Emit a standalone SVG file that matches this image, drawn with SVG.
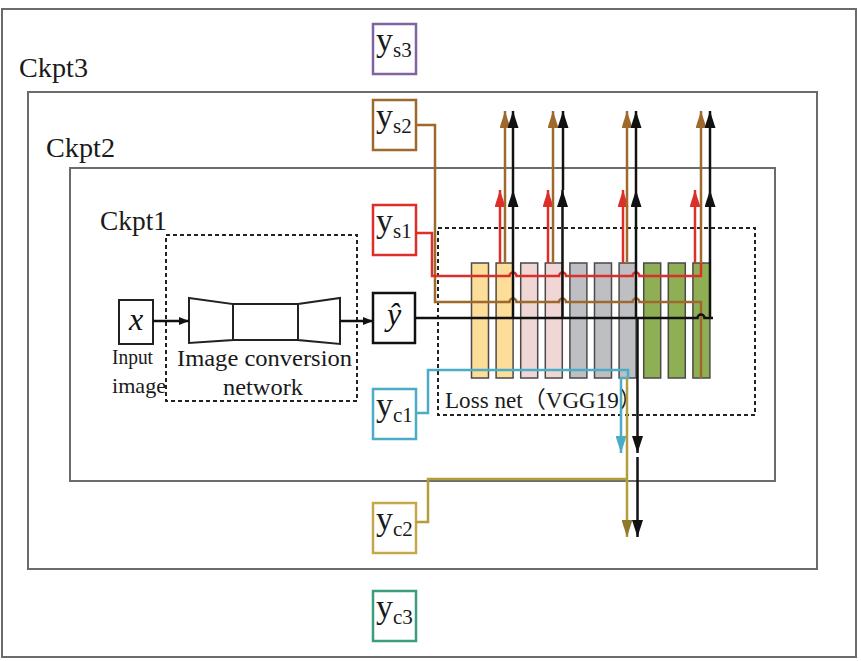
<svg xmlns="http://www.w3.org/2000/svg" width="861" height="661" viewBox="0 0 861 661">
<style>
  .frame{fill:none;stroke:#6b6b6b;stroke-width:2}
  .dash{fill:none;stroke:#222;stroke-width:2;stroke-dasharray:4 3}
  .ybox{fill:#fff;stroke-width:2.5}
  .t{font-family:'Liberation Serif','Times New Roman','DejaVu Serif','Noto Serif',serif;fill:#1a1a1a}
  .ck{font-size:28px}
  .y{font-size:34px}
  .sub{font-size:21px}
  .m{font-family:'Liberation Serif','Times New Roman','DejaVu Serif','Noto Serif',serif;font-style:italic;fill:#111}
  .cjk{font-family:'Liberation Serif','DejaVu Serif','Noto Sans CJK SC',serif}
  .bar{stroke:#4a4a4a;stroke-width:1.5}
  .c{fill:none;stroke-width:2.5}
  .blk{stroke:#111}
  .red{stroke:#dc2f2a}
  .brn{stroke:#a0692c}
  .cyn{stroke:#4bacc6}
  .gld{stroke:#b59d3b}
  .shape{fill:#fff;stroke:#222;stroke-width:2}
</style>
<defs>
  <marker id="aBlk" markerUnits="userSpaceOnUse" viewBox="0 0 17 11" markerWidth="17" markerHeight="11" refX="17" refY="5.5" orient="auto"><path d="M0,0 L17,5.5 L0,11 z" fill="#111"/></marker>
  <marker id="aRed" markerUnits="userSpaceOnUse" viewBox="0 0 17 11" markerWidth="17" markerHeight="11" refX="17" refY="5.5" orient="auto"><path d="M0,0 L17,5.5 L0,11 z" fill="#dc2f2a"/></marker>
  <marker id="aBrn" markerUnits="userSpaceOnUse" viewBox="0 0 17 11" markerWidth="17" markerHeight="11" refX="17" refY="5.5" orient="auto"><path d="M0,0 L17,5.5 L0,11 z" fill="#a0692c"/></marker>
  <marker id="aCyn" markerUnits="userSpaceOnUse" viewBox="0 0 17 11" markerWidth="17" markerHeight="11" refX="17" refY="5.5" orient="auto"><path d="M0,0 L17,5.5 L0,11 z" fill="#4bacc6"/></marker>
  <marker id="aGld" markerUnits="userSpaceOnUse" viewBox="0 0 17 11" markerWidth="17" markerHeight="11" refX="17" refY="5.5" orient="auto"><path d="M0,0 L17,5.5 L0,11 z" fill="#8f7a2a"/></marker>
  <marker id="aSm" markerUnits="userSpaceOnUse" viewBox="0 0 10 8" markerWidth="10" markerHeight="8" refX="10" refY="4" orient="auto"><path d="M0,0 L10,4 L0,8 z" fill="#111"/></marker>
</defs>
<rect width="861" height="661" fill="#fff"/>

<g id="ckpt3">
  <rect class="frame" x="2" y="9" width="854" height="648"/>
  <text class="t ck" x="19" y="77" textLength="69" lengthAdjust="spacingAndGlyphs">Ckpt3</text>
</g>
<g id="ckpt2">
  <rect class="frame" x="28" y="92" width="789" height="477"/>
  <text class="t ck" x="46" y="157" textLength="69" lengthAdjust="spacingAndGlyphs">Ckpt2</text>
</g>
<g id="ckpt1">
  <rect class="frame" x="70" y="168" width="705" height="313"/>
  <text class="t ck" x="100" y="230" textLength="67" lengthAdjust="spacingAndGlyphs">Ckpt1</text>
</g>

<g id="input">
  <rect class="shape" x="119" y="300" width="34" height="44"/>
  <text class="m" x="136" y="330" font-size="32" text-anchor="middle">x</text>
  <text class="t" x="112" y="364" font-size="21" textLength="41" lengthAdjust="spacingAndGlyphs">Input</text>
  <text class="t" x="112" y="393" font-size="21" textLength="54" lengthAdjust="spacingAndGlyphs">image</text>
</g>

<g id="conversion-net">
  <rect class="dash" x="166" y="235" width="191" height="166"/>
  <path class="shape" d="M189,298 L233,304 L233,340 L189,343 Z"/>
  <rect class="shape" x="233" y="304" width="65" height="36"/>
  <path class="shape" d="M298,304 L340,298 L340,344 L298,340 Z"/>
  <text class="t" x="177" y="366" font-size="23" textLength="175" lengthAdjust="spacingAndGlyphs">Image conversion</text>
  <text class="t" x="223" y="395" font-size="23" textLength="80" lengthAdjust="spacingAndGlyphs">network</text>
</g>

<g id="loss-net">
  <rect class="dash" x="438" y="228" width="317" height="187"/>
  <rect class="bar" x="471.5" y="263" width="17" height="115" fill="#fcdd9a"/>
  <rect class="bar" x="496.1" y="263" width="17" height="115" fill="#fcdd9a"/>
  <rect class="bar" x="520.7" y="263" width="17" height="115" fill="#f1d6d6"/>
  <rect class="bar" x="545.3" y="263" width="17" height="115" fill="#f1d6d6"/>
  <rect class="bar" x="569.9" y="263" width="17" height="115" fill="#bebfc3"/>
  <rect class="bar" x="594.5" y="263" width="17" height="115" fill="#bebfc3"/>
  <rect class="bar" x="619.1" y="263" width="17" height="115" fill="#bebfc3"/>
  <rect class="bar" x="643.7" y="263" width="17" height="115" fill="#8faf55"/>
  <rect class="bar" x="668.3" y="263" width="17" height="115" fill="#8faf55"/>
  <rect class="bar" x="692.9" y="263" width="17" height="115" fill="#8faf55"/>
  <text class="t cjk" x="445" y="408" font-size="23" textLength="197" lengthAdjust="spacingAndGlyphs">Loss net（VGG19）</text>
</g>

<g id="ys3"><rect class="ybox" x="373" y="24" width="43" height="50" stroke="#8064a2"/><text class="t y" x="376" y="51">y<tspan class="sub" dy="6">s3</tspan></text></g>
<g id="ys2"><rect class="ybox" x="373" y="100" width="43" height="50" stroke="#a0692c"/><text class="t y" x="376" y="127">y<tspan class="sub" dy="6">s2</tspan></text></g>
<g id="ys1"><rect class="ybox" x="373" y="205" width="43" height="50" stroke="#dc2f2a"/><text class="t y" x="376" y="232">y<tspan class="sub" dy="6">s1</tspan></text></g>
<g id="yhat"><rect class="ybox" x="373" y="293" width="42" height="50" stroke="#111"/><text class="m" x="394" y="325" font-size="32" text-anchor="middle">ŷ</text></g>
<g id="yc1"><rect class="ybox" x="373" y="389" width="43" height="50" stroke="#4bacc6"/><text class="t y" x="376" y="416">y<tspan class="sub" dy="6">c1</tspan></text></g>
<g id="yc2"><rect class="ybox" x="373" y="503" width="43" height="50" stroke="#c2a84a"/><text class="t y" x="376" y="530">y<tspan class="sub" dy="6">c2</tspan></text></g>
<g id="yc3"><rect class="ybox" x="373" y="591" width="43" height="50" stroke="#3a9e7e"/><text class="t y" x="376" y="618">y<tspan class="sub" dy="6">c3</tspan></text></g>

<g id="connectors">
  <path class="c blk" stroke-width="2" d="M153,321 H189" marker-end="url(#aSm)"/>
  <path class="c blk" stroke-width="2" d="M340,321 H373" marker-end="url(#aSm)"/>
  <path class="c brn" d="M416,125 H435 V302 H509.5 a3.5,3.5 0 0 1 7,0 H559 a3.5,3.5 0 0 1 7,0 H632.5 a3.5,3.5 0 0 1 7,0 H701 V378"/>
  <path class="c red" d="M415,233 H432 V276 H509.5 a3.5,3.5 0 0 1 7,0 H559 a3.5,3.5 0 0 1 7,0 H632.5 a3.5,3.5 0 0 1 7,0 H701 V263"/>
  <path class="c blk" stroke-width="2" d="M415,318 H697.5 a3.5,3.5 0 0 1 7,0 H713"/>
  <path class="c cyn" d="M416,413 H428 V370 H628 V378 H621 V453" marker-end="url(#aCyn)"/>
  <path class="c gld" d="M416,522 H428 V479 H627"/>
  <path class="c gld" d="M627,378 V537" marker-end="url(#aGld)"/>
  <path class="c blk" d="M637.5,318 V453" marker-end="url(#aBlk)"/>
  <path class="c blk" d="M637.5,457 V537" marker-end="url(#aBlk)"/>
  <path class="c red" d="M500,263 V190" marker-end="url(#aRed)"/>
  <path class="c red" d="M548,263 V190" marker-end="url(#aRed)"/>
  <path class="c red" d="M623,263 V190" marker-end="url(#aRed)"/>
  <path class="c red" d="M695,263 V190" marker-end="url(#aRed)"/>
  <path class="c brn" d="M505,263 V111" marker-end="url(#aBrn)"/>
  <path class="c brn" d="M553,263 V111" marker-end="url(#aBrn)"/>
  <path class="c brn" d="M627,263 V111" marker-end="url(#aBrn)"/>
  <path class="c brn" d="M701,263 V111" marker-end="url(#aBrn)"/>
  <path class="c blk" d="M513,318 V190" marker-end="url(#aBlk)"/>
  <path class="c blk" d="M513,190 V111" marker-end="url(#aBlk)"/>
  <path class="c blk" d="M562.5,318 V190" marker-end="url(#aBlk)"/>
  <path class="c blk" d="M563,190 V111" marker-end="url(#aBlk)"/>
  <path class="c blk" d="M636,318 V190" marker-end="url(#aBlk)"/>
  <path class="c blk" d="M636,190 V111" marker-end="url(#aBlk)"/>
  <path class="c blk" d="M710,318 V190" marker-end="url(#aBlk)"/>
  <path class="c blk" d="M710,190 V111" marker-end="url(#aBlk)"/>
</g>
</svg>
